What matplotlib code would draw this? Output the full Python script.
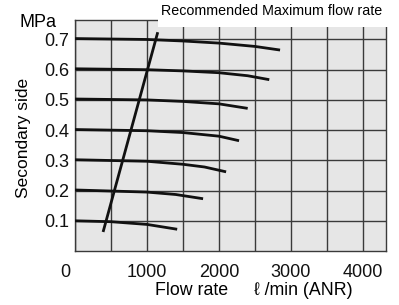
import numpy as np
import matplotlib
matplotlib.use("Agg")
import matplotlib.pyplot as plt
from matplotlib.patches import Rectangle
from matplotlib.transforms import ScaledTranslation

plt.rcParams['font.family'] = ['Liberation Sans', 'DejaVu Sans']

# secondary pressure curves (set pressure -> flow / pressure points)
flow_07 = [0, 1000, 1500, 2000, 2500, 2850]
pres_07 = [0.703, 0.700, 0.695, 0.688, 0.677, 0.665]
flow_06 = [0, 1000, 1500, 2000, 2400, 2700]
pres_06 = [0.603, 0.600, 0.596, 0.590, 0.580, 0.567]
flow_05 = [0, 1000, 1500, 2000, 2400]
pres_05 = [0.503, 0.500, 0.495, 0.487, 0.472]
flow_04 = [0, 1000, 1500, 2000, 2280]
pres_04 = [0.402, 0.398, 0.392, 0.380, 0.365]
flow_03 = [0, 1000, 1500, 1800, 2100]
pres_03 = [0.302, 0.297, 0.287, 0.278, 0.262]
flow_02 = [0, 1000, 1400, 1780]
pres_02 = [0.202, 0.195, 0.187, 0.173]
flow_01 = [0, 500, 1000, 1420]
pres_01 = [0.100, 0.097, 0.088, 0.072]

# recommended maximum flow rate line
rec_flow = [390, 1150]
rec_pres = [0.063, 0.724]

x_ticks = [0, 1000, 2000, 3000, 4000]
y_ticks = [0.1, 0.2, 0.3, 0.4, 0.5, 0.6, 0.7]

curves = [(flow_07, pres_07), (flow_06, pres_06), (flow_05, pres_05),
          (flow_04, pres_04), (flow_03, pres_03), (flow_02, pres_02),
          (flow_01, pres_01)]

fig = plt.figure(figsize=(3.99, 3.05), dpi=100)
ax = fig.add_axes([0.188, 0.177, 0.779, 0.757])
ax.set_facecolor('#e6e6e6')

for f, p in curves:
    ax.plot(f, p, color='#111111', lw=2.0, solid_capstyle='butt', zorder=3)
ax.plot(rec_flow, rec_pres, color='#111111', lw=2.0, solid_capstyle='butt', zorder=3)

ax.set_xlim(0, 4320)
ax.set_ylim(0, 0.764)
ax.set_xticks(x_ticks)
ax.set_xticks(np.arange(500, 4320, 1000), minor=True)
ax.set_yticks(y_ticks)
ax.set_xticklabels([str(v) for v in x_ticks])
ax.set_yticklabels([f"{v:.1f}" for v in y_ticks])
ax.tick_params(which='both', length=0, labelsize=13, colors='#111111')
ax.tick_params(axis='x', pad=9)
ax.tick_params(axis='y', pad=4)
ax.grid(True, which='both', color='#3a3a3a', lw=1.0, zorder=1)
ax.set_axisbelow(True)
for s in ax.spines.values():
    s.set_color('#3a3a3a')
    s.set_linewidth(1.0)

# the "0" label sits a bit left of the axis
lbl0 = ax.get_xticklabels()[0]
lbl0.set_transform(lbl0.get_transform() + ScaledTranslation(-0.1, 0, fig.dpi_scale_trans))

fig.text(0.095, 0.925, "MPa", ha='center', va='center', fontsize=13)
fig.text(0.060, 0.548, "Secondary side", rotation=90, ha='center', va='center',
         fontsize=12.5)
fig.text(0.479, 0.049, "Flow rate", ha='center', va='center', fontsize=12.8)
fig.text(0.759, 0.049, "ℓ /min (ANR)", ha='center', va='center', fontsize=12.8,
         family=['Liberation Sans', 'DejaVu Sans'])

# white box with the recommended flow label over the top of the grid
fig.patches.append(Rectangle((158 / 399, 1 - 27 / 305), 1, 27 / 305,
                             transform=fig.transFigure, facecolor='white',
                             edgecolor='none', zorder=2))
fig.text(272 / 399, 1 - 11 / 305, "Recommended Maximum flow rate", ha='center',
         va='center', fontsize=10.3, zorder=3)

fig.savefig("out.png", dpi=100)
